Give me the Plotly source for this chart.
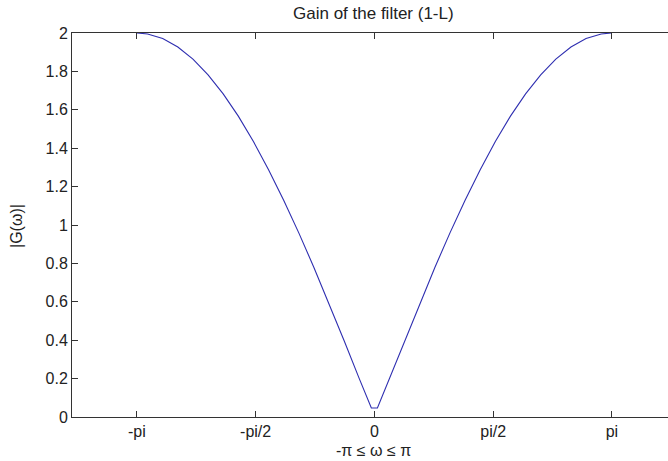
import math
import plotly.graph_objects as go

# Data
omega = [-3.14, -3.0, -2.8, -2.6, -2.4, -2.2, -2.0, -1.8, -1.6, -1.4, -1.2, -1.0, -0.8, -0.6, -0.4, -0.2, -0.04,
         0.04, 0.2, 0.4, 0.6, 0.8, 1.0, 1.2, 1.4, 1.6, 1.8, 2.0, 2.2, 2.4, 2.6, 2.8, 3.0, 3.14]
gain = [2.000, 1.995, 1.971, 1.927, 1.864, 1.782, 1.683, 1.567, 1.435, 1.288, 1.129, 0.959, 0.779, 0.591, 0.397, 0.200, 0.047,
        0.047, 0.200, 0.397, 0.591, 0.779, 0.959, 1.129, 1.288, 1.435, 1.567, 1.683, 1.782, 1.864, 1.927, 1.971, 1.995, 2.000]

x_tick_vals = [-math.pi, -math.pi / 2, 0, math.pi / 2, math.pi]
x_tick_text = ["-pi", "-pi/2", "0", "pi/2", "pi"]
y_tick_vals = [0, 0.2, 0.4, 0.6, 0.8, 1.0, 1.2, 1.4, 1.6, 1.8, 2.0]
y_tick_text = ["0", "0.2", "0.4", "0.6", "0.8", "1", "1.2", "1.4", "1.6", "1.8", "2"]

title_text = "Gain of the filter (1-L)"
x_label = "-π ≤ ω ≤ π"
y_label = "|G(ω)|"

FONT = "Liberation Sans, Arial, sans-serif"
AXC = "#333333"

L, R, T, B = 72, 0, 33, 44
W, H = 668, 461
pw, ph = W - L - R, H - T - B


def ann(text, px, py, size, angle=0):
    return dict(text=text, x=(px - L) / pw, y=((H - py) - B) / ph, xref="paper", yref="paper",
                xanchor="center", yanchor="middle", showarrow=False, textangle=angle,
                font=dict(size=size))


fig = go.Figure()
fig.add_trace(go.Scatter(x=omega, y=gain, mode="lines",
                         line=dict(color="#2e2eb0", width=1.1), showlegend=False))

fig.update_layout(
    width=W, height=H,
    margin=dict(l=L, r=R, t=T, b=B),
    paper_bgcolor="white", plot_bgcolor="white",
    font=dict(family=FONT, size=16, color="#222222"),
    xaxis=dict(range=[-4, 3.884], tickvals=x_tick_vals, ticktext=x_tick_text,
               ticks="inside", ticklen=6, tickcolor=AXC, showline=True, linecolor=AXC,
               linewidth=1, mirror="ticks", showgrid=False, zeroline=False,
               tickfont=dict(size=16)),
    yaxis=dict(range=[0, 2], tickvals=y_tick_vals, ticktext=y_tick_text,
               ticks="inside", ticklen=6, tickcolor=AXC, showline=True, linecolor=AXC,
               linewidth=1, mirror=False, showgrid=False, zeroline=False,
               tickfont=dict(size=16)),
    annotations=[
        ann(title_text, 373, 14, 17),
        ann(x_label, 373, 450, 16),
        ann(y_label, 16, 226, 16, -90),
    ],
)

fig.write_html("out.html")
